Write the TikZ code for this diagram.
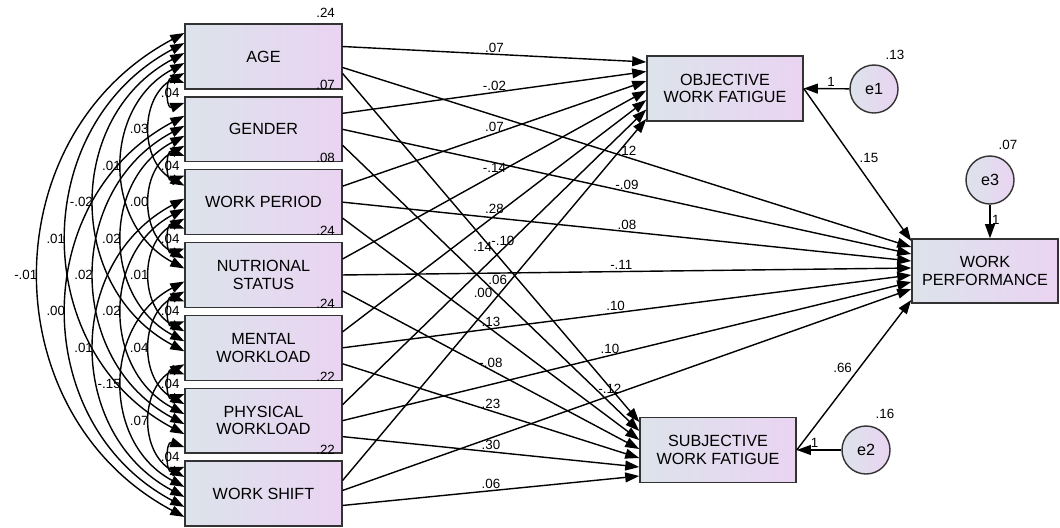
\documentclass[tikz,border=0pt]{standalone}
\usepackage{fontspec}
\setmainfont{Liberation Sans}
\usepackage{tikz}
\usetikzlibrary{arrows.meta, positioning, calc}
\definecolor{amosBlue}{RGB}{220,227,235}
\definecolor{amosLilac}{RGB}{234,212,242}
\definecolor{amosEdge}{RGB}{51,51,51}

\begin{document}
\begin{tikzpicture}[
    x=0.025cm, y=-0.025cm,
    node distance=0.165cm,
    >={Triangle[length=10pt,width=7pt]},
    var/.style={
        rectangle,
        draw=amosEdge,
        line width=1pt,
        left color=amosBlue,
        right color=amosLilac,
        minimum width=3.92cm,
        minimum height=1.62cm,
        align=center,
        font=\fontsize{11.5}{12.5}\selectfont
    },
    err/.style={
        circle,
        draw=amosEdge,
        line width=1pt,
        left color=amosBlue,
        right color=amosLilac,
        minimum size=1.2cm,
        inner sep=0pt,
        font=\fontsize{11.5}{12.5}\selectfont
    },
    coef/.style={font=\fontsize{9.5}{10}\selectfont, inner sep=1pt},
    reg/.style={->, line width=1pt},
    cov/.style={<->, line width=1pt, bend right=62, looseness=1.16},
    covnear/.style={<->, line width=1pt, bend right=110, looseness=2.6}
]
    \useasboundingbox (0,0) rectangle (1060,527);

    % exogenous variables
    \node[var] (age) at (263.5,56.5) {AGE};
    \node[var, below=of age] (gender) {GENDER};
    \node[var, below=of gender] (period) {WORK PERIOD};
    \node[var, below=of period] (nutri) {NUTRIONAL\\STATUS};
    \node[var, below=of nutri] (mental) {MENTAL\\WORKLOAD};
    \node[var, below=of mental] (physical) {PHYSICAL\\WORKLOAD};
    \node[var, below=of physical] (shift) {WORK SHIFT};

    % endogenous variables and errors
    \node[var, minimum width=3.9cm] (objective) at (725,88.5) {OBJECTIVE\\WORK FATIGUE};
    \node[var, minimum width=3.9cm] (subjective) at (718,450) {SUBJECTIVE\\WORK FATIGUE};
    \node[var, minimum width=3.65cm, minimum height=1.6cm] (perform) at (985,271) {WORK\\PERFORMANCE};
    \node[err] (e1) at (874,89) {e1};
    \node[err] (e2) at (866,450) {e2};
    \node[err] (e3) at (990,180) {e3};

    % variances
    \node[coef] at ($(age.north east)+(-17,-11)$) {.24};
    \node[coef] at ($(gender.north east)+(-17,-11)$) {.07};
    \node[coef] at ($(period.north east)+(-17,-11)$) {.08};
    \node[coef] at ($(nutri.north east)+(-17,-11)$) {.24};
    \node[coef] at ($(mental.north east)+(-17,-11)$) {.24};
    \node[coef] at ($(physical.north east)+(-17,-11)$) {.22};
    \node[coef] at ($(shift.north east)+(-17,-11)$) {.22};
    \node[coef] at ($(e1)+(21,-34)$) {.13};
    \node[coef] at ($(e2)+(19,-36)$) {.16};
    \node[coef] at ($(e3)+(18,-35)$) {.07};

    % covariances
    \draw[covnear] ($(age.west)+(0,26.5)$) to node[coef] {.04} ($(gender.west)+(0,-26.5)$);
    \draw[covnear] ($(gender.west)+(0,26.5)$) to node[coef] {.04} ($(period.west)+(0,-26.5)$);
    \draw[covnear] ($(period.west)+(0,26.5)$) to node[coef] {.04} ($(nutri.west)+(0,-26.5)$);
    \draw[covnear] ($(nutri.west)+(0,26.5)$) to node[coef] {.04} ($(mental.west)+(0,-26.5)$);
    \draw[covnear] ($(mental.west)+(0,26.5)$) to node[coef] {.04} ($(physical.west)+(0,-26.5)$);
    \draw[covnear] ($(physical.west)+(0,26.5)$) to node[coef] {.04} ($(shift.west)+(0,-26.5)$);

    \draw[cov] ($(age.west)+(0,16.5)$) to node[coef, left] {.03} ($(period.west)+(0,-16.5)$);
    \draw[cov] ($(gender.west)+(0,16.5)$) to node[coef, left] {.00} ($(nutri.west)+(0,-16.5)$);
    \draw[cov] ($(period.west)+(0,16.5)$) to node[coef, left] {.01} ($(mental.west)+(0,-16.5)$);
    \draw[cov] ($(nutri.west)+(0,16.5)$) to node[coef, left] {.04} ($(physical.west)+(0,-16.5)$);
    \draw[cov] ($(mental.west)+(0,16.5)$) to node[coef, left] {.07} ($(shift.west)+(0,-16.5)$);

    \draw[cov] ($(age.west)+(0,6.5)$) to node[coef, left] {.01} ($(nutri.west)+(0,-6.5)$);
    \draw[cov] ($(gender.west)+(0,6.5)$) to node[coef, left] {.02} ($(mental.west)+(0,-6.5)$);
    \draw[cov] ($(period.west)+(0,6.5)$) to node[coef, left] {.02} ($(physical.west)+(0,-6.5)$);
    \draw[cov] ($(nutri.west)+(0,6.5)$) to node[coef, left] {-.15} ($(shift.west)+(0,-6.5)$);

    \draw[cov] ($(age.west)+(0,-3.5)$) to node[coef, left] {-.02} ($(mental.west)+(0,3.5)$);
    \draw[cov] ($(gender.west)+(0,-3.5)$) to node[coef, left] {.02} ($(physical.west)+(0,3.5)$);
    \draw[cov] ($(period.west)+(0,-3.5)$) to node[coef, left] {.01} ($(shift.west)+(0,3.5)$);

    \draw[cov] ($(age.west)+(0,-13.5)$) to node[coef, left] {.01} ($(physical.west)+(0,13.5)$);
    \draw[cov] ($(gender.west)+(0,-13.5)$) to node[coef, left] {.00} ($(shift.west)+(0,13.5)$);

    \draw[cov] ($(age.west)+(0,-23.5)$) to node[coef, left] {-.01} ($(shift.west)+(0,23.5)$);

    % paths to objective work fatigue
    \draw[reg] ($(age.east)+(0,-10)$) -- node[coef, above] {.07} ($(objective.west)+(0,-26.5)$);
    \draw[reg] ($(gender.east)+(0,-16)$) -- node[coef, above] {-.02} ($(objective.west)+(0,-17)$);
    \draw[reg] ($(period.east)+(0,-16)$) -- node[coef, above] {.07} ($(objective.west)+(0,-7.5)$);
    \draw[reg] ($(nutri.east)+(0,-16)$) -- node[coef, above] {-.14} ($(objective.west)+(0,2)$);
    \draw[reg] ($(mental.east)+(0,-16)$) -- node[coef, above] {.28} ($(objective.west)+(0,11.5)$);
    \draw[reg] ($(physical.east)+(0,-16)$) -- node[coef, left=8pt, pos=0.536] {.14} ($(objective.west)+(0,21)$);
    \draw[reg] ($(shift.east)+(0,-13)$) -- node[coef, above left] {.00} ($(objective.west)+(0,30.5)$);

    % paths to subjective work fatigue
    \draw[reg] ($(age.east)+(0,17)$) -- node[coef, right=3pt, pos=0.48] {-.10} ($(subjective.west)+(0,-28)$);
    \draw[reg] ($(gender.east)+(0,16)$) -- node[coef, right=3pt, pos=0.47] {.06} ($(subjective.west)+(0,-19)$);
    \draw[reg] ($(period.east)+(0,16)$) -- node[coef, above] {.13} ($(subjective.west)+(0,-10)$);
    \draw[reg] ($(nutri.east)+(0,16)$) -- node[coef, above] {-.08} ($(subjective.west)+(0,-1)$);
    \draw[reg] ($(mental.east)+(0,16)$) -- node[coef, above] {.23} ($(subjective.west)+(0,8)$);
    \draw[reg] ($(physical.east)+(0,16)$) -- node[coef, above] {.30} ($(subjective.west)+(0,17)$);
    \draw[reg] ($(shift.east)+(0,12)$) -- node[coef, above] {.06} ($(subjective.west)+(0,26)$);

    % paths to work performance
    \draw[reg] ($(age.east)+(0,11)$) -- node[coef, above] {.12} ($(perform.west)+(0,-24)$);
    \draw[reg] ($(gender.east)+(0,0)$) -- node[coef, above] {-.09} ($(perform.west)+(0,-17)$);
    \draw[reg] ($(period.east)+(0,0)$) -- node[coef, above] {.08} ($(perform.west)+(0,-10)$);
    \draw[reg] ($(nutri.east)+(0,0)$) -- node[coef, above, pos=0.49] {-.11} ($(perform.west)+(0,-3)$);
    \draw[reg] ($(mental.east)+(0,0)$) -- node[coef, above, pos=0.48] {.10} ($(perform.west)+(0,4)$);
    \draw[reg] ($(physical.east)+(0,0)$) -- node[coef, above, pos=0.47] {.10} ($(perform.west)+(0,11)$);
    \draw[reg] ($(shift.east)+(0,-3)$) -- node[coef, above, pos=0.47] {-.12} ($(perform.west)+(0,18)$);

    \draw[reg] (objective.east) -- node[coef, above right] {.15} ($(perform.west)+(0,-30)$);
    \draw[reg] (subjective.east) -- node[coef, above left] {.66} ($(perform.west)+(0,29)$);

    % error terms
    \draw[reg] (e1) -- node[coef, above, pos=0.4] {1} (objective.east);
    \draw[reg] (e2) -- node[coef, above, pos=0.6] {1} (subjective.east);
    \draw[reg] (e3) -- node[coef, right, pos=0.45] {1} (e3 |- perform.north);

\end{tikzpicture}
\end{document}
